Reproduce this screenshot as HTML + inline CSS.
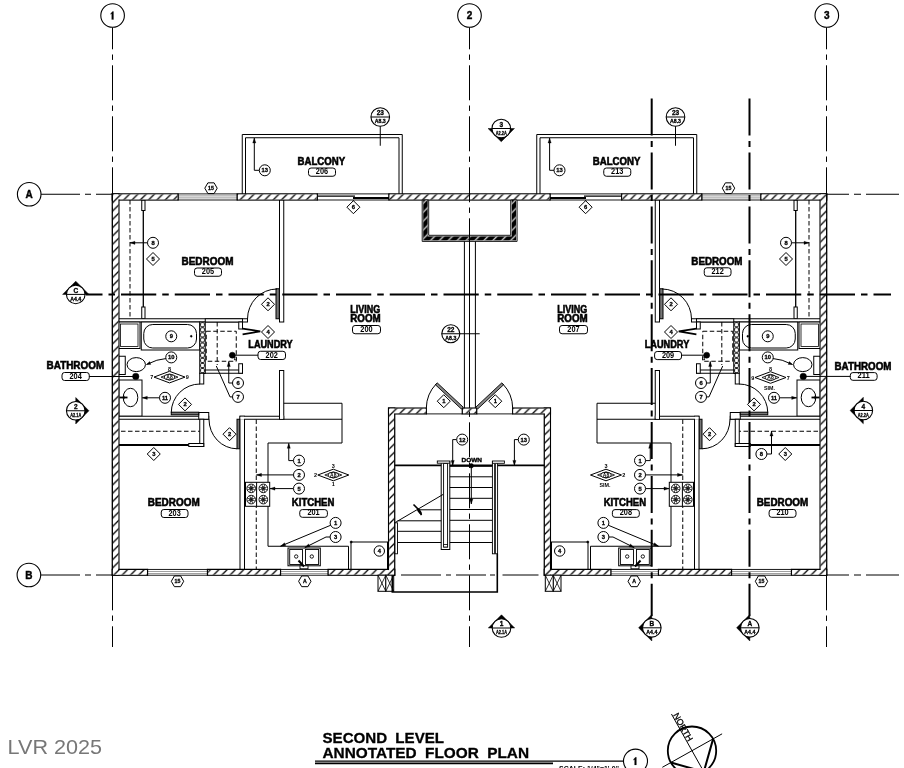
<!DOCTYPE html>
<html><head><meta charset="utf-8"><title>Second Level Annotated Floor Plan</title>
<style>html,body{margin:0;padding:0;background:#fff;}body{width:904px;height:768px;overflow:hidden;font-family:"Liberation Sans",sans-serif;}svg{position:absolute;left:0;top:0}</style>
</head><body>
<svg width="904" height="768" viewBox="0 0 904 768" style="display:block;filter:grayscale(1)">
<defs>
<pattern id="hatch" patternUnits="userSpaceOnUse" width="8.3" height="8.3">
<rect width="8.3" height="8.3" fill="#fff"/>
<path d="M-2.075 2.075 L2.075 -2.075 M0 8.3 L8.3 0 M6.225 10.375 L10.375 6.225" stroke="#000" stroke-width="1.3"/>
</pattern>
<pattern id="mason" patternUnits="userSpaceOnUse" width="8.9" height="8.9" x="2.5" y="1">
<rect width="8.9" height="8.9" fill="#000"/>
<path d="M-2.225 2.225 L2.225 -2.225 M0 8.9 L8.9 0 M6.675 11.125 L11.125 6.675" stroke="#fff" stroke-width="1.2"/>
</pattern>
</defs>
<rect width="904" height="768" fill="#fff"/>
<path d="M242.25 194.00 L242.25 134.50 L402.25 134.50 L402.25 194.00" fill="none" stroke="#000" stroke-width="1" />
<path d="M245.50 194.00 L245.50 137.75 L399.00 137.75 L399.00 194.00" fill="none" stroke="#000" stroke-width="1" />
<path d="M696.75 194.00 L696.75 134.50 L536.75 134.50 L536.75 194.00" fill="none" stroke="#000" stroke-width="1" />
<path d="M693.50 194.00 L693.50 137.75 L540.00 137.75 L540.00 194.00" fill="none" stroke="#000" stroke-width="1" />
<line x1="130.00" y1="200.00" x2="130.00" y2="318.75" stroke="#000" stroke-width="1" stroke-dasharray="4.5 2.5"/>
<line x1="143.30" y1="210.00" x2="143.30" y2="307.00" stroke="#000" stroke-width="1.3" />
<rect x="141.75" y="200.00" width="3.25" height="10.50" fill="#fff" stroke="#000" stroke-width="1" />
<rect x="141.75" y="307.00" width="3.25" height="11.75" fill="#fff" stroke="#000" stroke-width="1" />
<rect x="279.50" y="199.75" width="4.25" height="122.25" fill="#fff" stroke="#000" stroke-width="1" />
<rect x="118.50" y="318.75" width="129.00" height="3.25" fill="#fff" stroke="#000" stroke-width="1" />
<rect x="118.50" y="322.00" width="21.50" height="26.50" fill="#fff" stroke="#000" stroke-width="1" />
<rect x="120.50" y="324.00" width="17.50" height="22.50" fill="#fff" stroke="#000" stroke-width="0.8" />
<rect x="141.25" y="322.00" width="58.50" height="28.00" fill="#fff" stroke="#000" stroke-width="1" />
<rect x="143.75" y="324.5" width="52.75" height="23.5" rx="9" ry="9" fill="#fff" stroke="#000" stroke-width="1"/>
<circle cx="191.25" cy="336.25" r="0.90" fill="#000" stroke="#000" stroke-width="0.5" />
<rect x="199.75" y="322.00" width="5.50" height="51.50" fill="#fff" stroke="#000" stroke-width="1" />
<rect x="200.60" y="322.60" width="3.8" height="4.2" rx="1.2" fill="#fff" stroke="#000" stroke-width="0.9"/>
<rect x="200.60" y="327.70" width="3.8" height="4.2" rx="1.2" fill="#fff" stroke="#000" stroke-width="0.9"/>
<rect x="200.60" y="332.80" width="3.8" height="4.2" rx="1.2" fill="#fff" stroke="#000" stroke-width="0.9"/>
<rect x="200.60" y="337.90" width="3.8" height="4.2" rx="1.2" fill="#fff" stroke="#000" stroke-width="0.9"/>
<rect x="200.60" y="343.00" width="3.8" height="4.2" rx="1.2" fill="#fff" stroke="#000" stroke-width="0.9"/>
<rect x="200.60" y="348.10" width="3.8" height="4.2" rx="1.2" fill="#fff" stroke="#000" stroke-width="0.9"/>
<rect x="200.60" y="353.20" width="3.8" height="4.2" rx="1.2" fill="#fff" stroke="#000" stroke-width="0.9"/>
<rect x="200.60" y="358.30" width="3.8" height="4.2" rx="1.2" fill="#fff" stroke="#000" stroke-width="0.9"/>
<rect x="200.60" y="363.40" width="3.8" height="4.2" rx="1.2" fill="#fff" stroke="#000" stroke-width="0.9"/>
<rect x="200.60" y="368.50" width="3.8" height="4.2" rx="1.2" fill="#fff" stroke="#000" stroke-width="0.9"/>
<rect x="205.25" y="318.75" width="37.25" height="3.25" fill="#fff" stroke="#000" stroke-width="1" />
<rect x="238.75" y="322.00" width="3.75" height="7.00" fill="#fff" stroke="#000" stroke-width="1" />
<rect x="205.25" y="370.00" width="37.25" height="3.25" fill="#fff" stroke="#000" stroke-width="1" />
<rect x="238.75" y="363.75" width="3.75" height="9.50" fill="#fff" stroke="#000" stroke-width="1" />
<line x1="217.20" y1="322.00" x2="217.20" y2="365.00" stroke="#000" stroke-width="1" stroke-dasharray="4.5 2.5"/>
<rect x="206.25" y="331.25" width="30" height="30" fill="none" stroke="#000" stroke-width="1" stroke-dasharray="4.5 2.5"/>
<path d="M242.60 328.60 L260.30 331.30 L242.60 334.40" fill="none" stroke="#000" stroke-width="1.7" />
<rect x="118.75" y="356.25" width="6.50" height="18.25" fill="#fff" stroke="#000" stroke-width="1" />
<ellipse cx="136.25" cy="364.6" rx="9.2" ry="7" fill="#fff" stroke="#000" stroke-width="1"/>
<rect x="118.75" y="380.00" width="23.25" height="36.25" fill="#fff" stroke="#000" stroke-width="1" />
<ellipse cx="130.50" cy="397.5" rx="7.3" ry="9.2" fill="#fff" stroke="#000" stroke-width="1"/>
<line x1="119.50" y1="397.50" x2="127.50" y2="397.50" stroke="#000" stroke-width="1.8" />
<line x1="124.00" y1="395.80" x2="124.00" y2="399.20" stroke="#000" stroke-width="1" />
<rect x="199.75" y="373.25" width="4.00" height="10.75" fill="#fff" stroke="#000" stroke-width="1" />
<rect x="118.50" y="416.25" width="90.25" height="3.00" fill="#fff" stroke="#000" stroke-width="1" />
<rect x="198.75" y="412.50" width="10.00" height="6.75" fill="#fff" stroke="#000" stroke-width="1" />
<rect x="171.25" y="412.20" width="27.50" height="2.60" fill="#777" stroke="#000" stroke-width="1" />
<path d="M200.00 384 A28.75 28.75 0 0 0 171.25 412.5" fill="none" stroke="#000" stroke-width="1"/>
<line x1="121.00" y1="431.25" x2="200.00" y2="431.25" stroke="#000" stroke-width="1" stroke-dasharray="4.5 2.5"/>
<rect x="199.75" y="419.25" width="4.00" height="27.25" fill="#fff" stroke="#000" stroke-width="1" />
<rect x="188.75" y="443.50" width="15.00" height="3.00" fill="#fff" stroke="#000" stroke-width="1" />
<line x1="118.75" y1="445.00" x2="188.75" y2="445.00" stroke="#000" stroke-width="1.8" />
<rect x="237.00" y="419.25" width="3.00" height="29.50" fill="#777" stroke="#000" stroke-width="1" />
<path d="M209.00 419.25 A28 29.5 0 0 0 237.00 448.75" fill="none" stroke="#000" stroke-width="1"/>
<rect x="276.00" y="288.75" width="3.30" height="30.00" fill="#777" stroke="#000" stroke-width="1" />
<path d="M277.00 289 A29.5 30 0 0 0 247.50 319" fill="none" stroke="#000" stroke-width="1"/>
<rect x="240.00" y="416.25" width="4.50" height="153.25" fill="#fff" stroke="#000" stroke-width="1" />
<rect x="240.00" y="416.25" width="43.75" height="3.00" fill="#fff" stroke="#000" stroke-width="1" />
<rect x="279.50" y="370.50" width="4.25" height="48.75" fill="#fff" stroke="#000" stroke-width="1" />
<rect x="240.50" y="416.75" width="3.5" height="3" fill="#fff"/>
<rect x="280.00" y="415.5" width="3.25" height="3.25" fill="#fff"/>
<path d="M283.75 403.25 L342.00 403.25 L342.00 443.00 L268.00 443.00 L268.00 546.25 L348.50 546.25 L348.50 569.50" fill="none" stroke="#000" stroke-width="1" />
<line x1="283.75" y1="419.25" x2="342.00" y2="419.25" stroke="#000" stroke-width="1" />
<line x1="256.25" y1="419.50" x2="256.25" y2="569.50" stroke="#000" stroke-width="1" stroke-dasharray="4.5 2.5"/>
<rect x="351.00" y="542.00" width="36.50" height="27.50" fill="#fff" stroke="#000" stroke-width="1" />
<circle cx="351.20" cy="542.00" r="1.10" fill="#000" stroke="#000" stroke-width="0.5" />
<rect x="245.50" y="482.30" width="24.20" height="24.00" fill="#fff" stroke="#000" stroke-width="1" />
<line x1="256.60" y1="482.30" x2="256.60" y2="506.30" stroke="#000" stroke-width="1" />
<circle cx="251.20" cy="488.40" r="4.30" fill="#fff" stroke="#000" stroke-width="0.9" />
<circle cx="251.20" cy="488.40" r="1.60" fill="#fff" stroke="#000" stroke-width="0.8" />
<line x1="247.21" y1="486.79" x2="255.19" y2="490.01" stroke="#000" stroke-width="0.7" />
<line x1="249.52" y1="484.44" x2="252.88" y2="492.36" stroke="#000" stroke-width="0.7" />
<line x1="252.81" y1="484.41" x2="249.59" y2="492.39" stroke="#000" stroke-width="0.7" />
<line x1="255.16" y1="486.72" x2="247.24" y2="490.08" stroke="#000" stroke-width="0.7" />
<circle cx="251.20" cy="499.60" r="4.30" fill="#fff" stroke="#000" stroke-width="0.9" />
<circle cx="251.20" cy="499.60" r="1.60" fill="#fff" stroke="#000" stroke-width="0.8" />
<line x1="247.21" y1="497.99" x2="255.19" y2="501.21" stroke="#000" stroke-width="0.7" />
<line x1="249.52" y1="495.64" x2="252.88" y2="503.56" stroke="#000" stroke-width="0.7" />
<line x1="252.81" y1="495.61" x2="249.59" y2="503.59" stroke="#000" stroke-width="0.7" />
<line x1="255.16" y1="497.92" x2="247.24" y2="501.28" stroke="#000" stroke-width="0.7" />
<circle cx="263.30" cy="488.40" r="4.30" fill="#fff" stroke="#000" stroke-width="0.9" />
<circle cx="263.30" cy="488.40" r="1.60" fill="#fff" stroke="#000" stroke-width="0.8" />
<line x1="259.31" y1="486.79" x2="267.29" y2="490.01" stroke="#000" stroke-width="0.7" />
<line x1="261.62" y1="484.44" x2="264.98" y2="492.36" stroke="#000" stroke-width="0.7" />
<line x1="264.91" y1="484.41" x2="261.69" y2="492.39" stroke="#000" stroke-width="0.7" />
<line x1="267.26" y1="486.72" x2="259.34" y2="490.08" stroke="#000" stroke-width="0.7" />
<circle cx="263.30" cy="499.60" r="4.30" fill="#fff" stroke="#000" stroke-width="0.9" />
<circle cx="263.30" cy="499.60" r="1.60" fill="#fff" stroke="#000" stroke-width="0.8" />
<line x1="259.31" y1="497.99" x2="267.29" y2="501.21" stroke="#000" stroke-width="0.7" />
<line x1="261.62" y1="495.64" x2="264.98" y2="503.56" stroke="#000" stroke-width="0.7" />
<line x1="264.91" y1="495.61" x2="261.69" y2="503.59" stroke="#000" stroke-width="0.7" />
<line x1="267.26" y1="497.92" x2="259.34" y2="501.28" stroke="#000" stroke-width="0.7" />
<rect x="288.00" y="548.00" width="32.30" height="17.80" fill="#fff" stroke="#000" stroke-width="1" />
<rect x="289.70" y="549.50" width="12.80" height="15.00" fill="#fff" stroke="#000" stroke-width="0.9" />
<rect x="305.50" y="549.50" width="13.10" height="15.00" fill="#fff" stroke="#000" stroke-width="0.9" />
<circle cx="296.20" cy="556.50" r="1.70" fill="#fff" stroke="#000" stroke-width="0.9" />
<circle cx="311.80" cy="556.50" r="1.70" fill="#fff" stroke="#000" stroke-width="0.9" />
<rect x="300.00" y="565.80" width="8.00" height="3.00" fill="#fff" stroke="#000" stroke-width="0.9" />
<line x1="298.50" y1="560.50" x2="304.00" y2="566.50" stroke="#000" stroke-width="2" />
<line x1="809.00" y1="200.00" x2="809.00" y2="318.75" stroke="#000" stroke-width="1" stroke-dasharray="4.5 2.5"/>
<line x1="795.70" y1="210.00" x2="795.70" y2="307.00" stroke="#000" stroke-width="1.3" />
<rect x="794.00" y="200.00" width="3.25" height="10.50" fill="#fff" stroke="#000" stroke-width="1" />
<rect x="794.00" y="307.00" width="3.25" height="11.75" fill="#fff" stroke="#000" stroke-width="1" />
<rect x="655.25" y="199.75" width="4.25" height="122.25" fill="#fff" stroke="#000" stroke-width="1" />
<rect x="691.50" y="318.75" width="129.00" height="3.25" fill="#fff" stroke="#000" stroke-width="1" />
<rect x="799.00" y="322.00" width="21.50" height="26.50" fill="#fff" stroke="#000" stroke-width="1" />
<rect x="801.00" y="324.00" width="17.50" height="22.50" fill="#fff" stroke="#000" stroke-width="0.8" />
<rect x="739.25" y="322.00" width="58.50" height="28.00" fill="#fff" stroke="#000" stroke-width="1" />
<rect x="742.50" y="324.5" width="52.75" height="23.5" rx="9" ry="9" fill="#fff" stroke="#000" stroke-width="1"/>
<circle cx="747.75" cy="336.25" r="0.90" fill="#000" stroke="#000" stroke-width="0.5" />
<rect x="733.75" y="322.00" width="5.50" height="51.50" fill="#fff" stroke="#000" stroke-width="1" />
<rect x="734.60" y="322.60" width="3.8" height="4.2" rx="1.2" fill="#fff" stroke="#000" stroke-width="0.9"/>
<rect x="734.60" y="327.70" width="3.8" height="4.2" rx="1.2" fill="#fff" stroke="#000" stroke-width="0.9"/>
<rect x="734.60" y="332.80" width="3.8" height="4.2" rx="1.2" fill="#fff" stroke="#000" stroke-width="0.9"/>
<rect x="734.60" y="337.90" width="3.8" height="4.2" rx="1.2" fill="#fff" stroke="#000" stroke-width="0.9"/>
<rect x="734.60" y="343.00" width="3.8" height="4.2" rx="1.2" fill="#fff" stroke="#000" stroke-width="0.9"/>
<rect x="734.60" y="348.10" width="3.8" height="4.2" rx="1.2" fill="#fff" stroke="#000" stroke-width="0.9"/>
<rect x="734.60" y="353.20" width="3.8" height="4.2" rx="1.2" fill="#fff" stroke="#000" stroke-width="0.9"/>
<rect x="734.60" y="358.30" width="3.8" height="4.2" rx="1.2" fill="#fff" stroke="#000" stroke-width="0.9"/>
<rect x="734.60" y="363.40" width="3.8" height="4.2" rx="1.2" fill="#fff" stroke="#000" stroke-width="0.9"/>
<rect x="734.60" y="368.50" width="3.8" height="4.2" rx="1.2" fill="#fff" stroke="#000" stroke-width="0.9"/>
<rect x="696.50" y="318.75" width="37.25" height="3.25" fill="#fff" stroke="#000" stroke-width="1" />
<rect x="696.50" y="322.00" width="3.75" height="7.00" fill="#fff" stroke="#000" stroke-width="1" />
<rect x="696.50" y="370.00" width="37.25" height="3.25" fill="#fff" stroke="#000" stroke-width="1" />
<rect x="696.50" y="363.75" width="3.75" height="9.50" fill="#fff" stroke="#000" stroke-width="1" />
<line x1="721.80" y1="322.00" x2="721.80" y2="365.00" stroke="#000" stroke-width="1" stroke-dasharray="4.5 2.5"/>
<rect x="702.75" y="331.25" width="30" height="30" fill="none" stroke="#000" stroke-width="1" stroke-dasharray="4.5 2.5"/>
<path d="M696.40 328.60 L678.70 331.30 L696.40 334.40" fill="none" stroke="#000" stroke-width="1.7" />
<rect x="813.75" y="356.25" width="6.50" height="18.25" fill="#fff" stroke="#000" stroke-width="1" />
<ellipse cx="802.75" cy="364.6" rx="9.2" ry="7" fill="#fff" stroke="#000" stroke-width="1"/>
<rect x="797.00" y="380.00" width="23.25" height="36.25" fill="#fff" stroke="#000" stroke-width="1" />
<ellipse cx="808.50" cy="397.5" rx="7.3" ry="9.2" fill="#fff" stroke="#000" stroke-width="1"/>
<line x1="819.50" y1="397.50" x2="811.50" y2="397.50" stroke="#000" stroke-width="1.8" />
<line x1="815.00" y1="395.80" x2="815.00" y2="399.20" stroke="#000" stroke-width="1" />
<rect x="735.25" y="373.25" width="4.00" height="10.75" fill="#fff" stroke="#000" stroke-width="1" />
<rect x="730.25" y="416.25" width="90.25" height="3.00" fill="#fff" stroke="#000" stroke-width="1" />
<rect x="730.25" y="412.50" width="10.00" height="6.75" fill="#fff" stroke="#000" stroke-width="1" />
<rect x="740.25" y="412.20" width="27.50" height="2.60" fill="#777" stroke="#000" stroke-width="1" />
<path d="M739.00 384 A28.75 28.75 0 0 1 767.75 412.5" fill="none" stroke="#000" stroke-width="1"/>
<line x1="818.00" y1="431.25" x2="739.00" y2="431.25" stroke="#000" stroke-width="1" stroke-dasharray="4.5 2.5"/>
<rect x="735.25" y="419.25" width="4.00" height="27.25" fill="#fff" stroke="#000" stroke-width="1" />
<rect x="735.25" y="443.50" width="15.00" height="3.00" fill="#fff" stroke="#000" stroke-width="1" />
<line x1="820.25" y1="445.00" x2="750.25" y2="445.00" stroke="#000" stroke-width="1.8" />
<rect x="699.00" y="419.25" width="3.00" height="29.50" fill="#777" stroke="#000" stroke-width="1" />
<path d="M730.00 419.25 A28 29.5 0 0 1 702.00 448.75" fill="none" stroke="#000" stroke-width="1"/>
<rect x="659.70" y="288.75" width="3.30" height="30.00" fill="#777" stroke="#000" stroke-width="1" />
<path d="M662.00 289 A29.5 30 0 0 1 691.50 319" fill="none" stroke="#000" stroke-width="1"/>
<rect x="694.50" y="416.25" width="4.50" height="153.25" fill="#fff" stroke="#000" stroke-width="1" />
<rect x="655.25" y="416.25" width="43.75" height="3.00" fill="#fff" stroke="#000" stroke-width="1" />
<rect x="655.25" y="370.50" width="4.25" height="48.75" fill="#fff" stroke="#000" stroke-width="1" />
<rect x="695.00" y="416.75" width="3.5" height="3" fill="#fff"/>
<rect x="655.75" y="415.5" width="3.25" height="3.25" fill="#fff"/>
<path d="M655.25 403.25 L597.00 403.25 L597.00 443.00 L671.00 443.00 L671.00 546.25 L590.50 546.25 L590.50 569.50" fill="none" stroke="#000" stroke-width="1" />
<line x1="655.25" y1="419.25" x2="597.00" y2="419.25" stroke="#000" stroke-width="1" />
<line x1="682.75" y1="419.50" x2="682.75" y2="569.50" stroke="#000" stroke-width="1" stroke-dasharray="4.5 2.5"/>
<rect x="551.50" y="542.00" width="36.50" height="27.50" fill="#fff" stroke="#000" stroke-width="1" />
<circle cx="587.80" cy="542.00" r="1.10" fill="#000" stroke="#000" stroke-width="0.5" />
<rect x="669.30" y="482.30" width="24.20" height="24.00" fill="#fff" stroke="#000" stroke-width="1" />
<line x1="682.40" y1="482.30" x2="682.40" y2="506.30" stroke="#000" stroke-width="1" />
<circle cx="687.80" cy="488.40" r="4.30" fill="#fff" stroke="#000" stroke-width="0.9" />
<circle cx="687.80" cy="488.40" r="1.60" fill="#fff" stroke="#000" stroke-width="0.8" />
<line x1="683.81" y1="486.79" x2="691.79" y2="490.01" stroke="#000" stroke-width="0.7" />
<line x1="686.12" y1="484.44" x2="689.48" y2="492.36" stroke="#000" stroke-width="0.7" />
<line x1="689.41" y1="484.41" x2="686.19" y2="492.39" stroke="#000" stroke-width="0.7" />
<line x1="691.76" y1="486.72" x2="683.84" y2="490.08" stroke="#000" stroke-width="0.7" />
<circle cx="687.80" cy="499.60" r="4.30" fill="#fff" stroke="#000" stroke-width="0.9" />
<circle cx="687.80" cy="499.60" r="1.60" fill="#fff" stroke="#000" stroke-width="0.8" />
<line x1="683.81" y1="497.99" x2="691.79" y2="501.21" stroke="#000" stroke-width="0.7" />
<line x1="686.12" y1="495.64" x2="689.48" y2="503.56" stroke="#000" stroke-width="0.7" />
<line x1="689.41" y1="495.61" x2="686.19" y2="503.59" stroke="#000" stroke-width="0.7" />
<line x1="691.76" y1="497.92" x2="683.84" y2="501.28" stroke="#000" stroke-width="0.7" />
<circle cx="675.70" cy="488.40" r="4.30" fill="#fff" stroke="#000" stroke-width="0.9" />
<circle cx="675.70" cy="488.40" r="1.60" fill="#fff" stroke="#000" stroke-width="0.8" />
<line x1="671.71" y1="486.79" x2="679.69" y2="490.01" stroke="#000" stroke-width="0.7" />
<line x1="674.02" y1="484.44" x2="677.38" y2="492.36" stroke="#000" stroke-width="0.7" />
<line x1="677.31" y1="484.41" x2="674.09" y2="492.39" stroke="#000" stroke-width="0.7" />
<line x1="679.66" y1="486.72" x2="671.74" y2="490.08" stroke="#000" stroke-width="0.7" />
<circle cx="675.70" cy="499.60" r="4.30" fill="#fff" stroke="#000" stroke-width="0.9" />
<circle cx="675.70" cy="499.60" r="1.60" fill="#fff" stroke="#000" stroke-width="0.8" />
<line x1="671.71" y1="497.99" x2="679.69" y2="501.21" stroke="#000" stroke-width="0.7" />
<line x1="674.02" y1="495.64" x2="677.38" y2="503.56" stroke="#000" stroke-width="0.7" />
<line x1="677.31" y1="495.61" x2="674.09" y2="503.59" stroke="#000" stroke-width="0.7" />
<line x1="679.66" y1="497.92" x2="671.74" y2="501.28" stroke="#000" stroke-width="0.7" />
<rect x="618.70" y="548.00" width="32.30" height="17.80" fill="#fff" stroke="#000" stroke-width="1" />
<rect x="636.50" y="549.50" width="12.80" height="15.00" fill="#fff" stroke="#000" stroke-width="0.9" />
<rect x="620.40" y="549.50" width="13.10" height="15.00" fill="#fff" stroke="#000" stroke-width="0.9" />
<circle cx="642.80" cy="556.50" r="1.70" fill="#fff" stroke="#000" stroke-width="0.9" />
<circle cx="627.20" cy="556.50" r="1.70" fill="#fff" stroke="#000" stroke-width="0.9" />
<rect x="631.00" y="565.80" width="8.00" height="3.00" fill="#fff" stroke="#000" stroke-width="0.9" />
<line x1="640.50" y1="560.50" x2="635.00" y2="566.50" stroke="#000" stroke-width="2" />
<rect x="178.00" y="193.90" width="59.25" height="6.10" fill="#fff" stroke="#000" stroke-width="0.9" />
<line x1="178.00" y1="195.90" x2="237.25" y2="195.90" stroke="#000" stroke-width="0.6" opacity="0.7"/>
<line x1="178.00" y1="197.90" x2="237.25" y2="197.90" stroke="#000" stroke-width="0.6" opacity="0.7"/>
<rect x="147.50" y="569.40" width="60.00" height="5.80" fill="#fff" stroke="#000" stroke-width="0.9" />
<line x1="147.50" y1="571.40" x2="207.50" y2="571.40" stroke="#000" stroke-width="0.6" opacity="0.7"/>
<line x1="147.50" y1="573.40" x2="207.50" y2="573.40" stroke="#000" stroke-width="0.6" opacity="0.7"/>
<rect x="280.50" y="569.40" width="47.70" height="5.80" fill="#fff" stroke="#000" stroke-width="0.9" />
<line x1="280.50" y1="571.40" x2="328.20" y2="571.40" stroke="#000" stroke-width="0.6" opacity="0.7"/>
<line x1="280.50" y1="573.40" x2="328.20" y2="573.40" stroke="#000" stroke-width="0.6" opacity="0.7"/>
<rect x="317.25" y="193.90" width="71.75" height="6.10" fill="#fff" stroke="#000" stroke-width="0.9" />
<line x1="317.25" y1="196.20" x2="355.00" y2="196.20" stroke="#000" stroke-width="1.2" />
<line x1="353.00" y1="198.00" x2="389.00" y2="198.00" stroke="#000" stroke-width="2" />
<rect x="701.75" y="193.90" width="59.25" height="6.10" fill="#fff" stroke="#000" stroke-width="0.9" />
<line x1="761.00" y1="195.90" x2="701.75" y2="195.90" stroke="#000" stroke-width="0.6" opacity="0.7"/>
<line x1="761.00" y1="197.90" x2="701.75" y2="197.90" stroke="#000" stroke-width="0.6" opacity="0.7"/>
<rect x="731.50" y="569.40" width="60.00" height="5.80" fill="#fff" stroke="#000" stroke-width="0.9" />
<line x1="791.50" y1="571.40" x2="731.50" y2="571.40" stroke="#000" stroke-width="0.6" opacity="0.7"/>
<line x1="791.50" y1="573.40" x2="731.50" y2="573.40" stroke="#000" stroke-width="0.6" opacity="0.7"/>
<rect x="610.80" y="569.40" width="47.70" height="5.80" fill="#fff" stroke="#000" stroke-width="0.9" />
<line x1="658.50" y1="571.40" x2="610.80" y2="571.40" stroke="#000" stroke-width="0.6" opacity="0.7"/>
<line x1="658.50" y1="573.40" x2="610.80" y2="573.40" stroke="#000" stroke-width="0.6" opacity="0.7"/>
<rect x="550.00" y="193.90" width="71.75" height="6.10" fill="#fff" stroke="#000" stroke-width="0.9" />
<line x1="621.75" y1="196.20" x2="584.00" y2="196.20" stroke="#000" stroke-width="1.2" />
<line x1="586.00" y1="198.00" x2="550.00" y2="198.00" stroke="#000" stroke-width="2" />
<rect x="112.30" y="193.90" width="65.70" height="6.10" fill="#fff" stroke="#000" stroke-width="1.3" />
<rect x="237.25" y="193.90" width="80.00" height="6.10" fill="#fff" stroke="#000" stroke-width="1.3" />
<rect x="112.30" y="193.90" width="6.60" height="381.30" fill="#fff" stroke="#000" stroke-width="1.3" />
<rect x="112.30" y="569.40" width="35.20" height="5.80" fill="#fff" stroke="#000" stroke-width="1.3" />
<rect x="207.50" y="569.40" width="73.00" height="5.80" fill="#fff" stroke="#000" stroke-width="1.3" />
<rect x="328.20" y="569.40" width="66.50" height="5.80" fill="#fff" stroke="#000" stroke-width="1.3" />
<rect x="388.60" y="408.10" width="6.10" height="167.10" fill="#fff" stroke="#000" stroke-width="1.3" />
<rect x="388.60" y="408.10" width="37.70" height="5.80" fill="#fff" stroke="#000" stroke-width="1.3" />
<rect x="761.00" y="193.90" width="65.70" height="6.10" fill="#fff" stroke="#000" stroke-width="1.3" />
<rect x="621.75" y="193.90" width="80.00" height="6.10" fill="#fff" stroke="#000" stroke-width="1.3" />
<rect x="820.10" y="193.90" width="6.60" height="381.30" fill="#fff" stroke="#000" stroke-width="1.3" />
<rect x="791.50" y="569.40" width="35.20" height="5.80" fill="#fff" stroke="#000" stroke-width="1.3" />
<rect x="658.50" y="569.40" width="73.00" height="5.80" fill="#fff" stroke="#000" stroke-width="1.3" />
<rect x="544.30" y="569.40" width="66.50" height="5.80" fill="#fff" stroke="#000" stroke-width="1.3" />
<rect x="544.30" y="408.10" width="6.10" height="167.10" fill="#fff" stroke="#000" stroke-width="1.3" />
<rect x="512.70" y="408.10" width="37.70" height="5.80" fill="#fff" stroke="#000" stroke-width="1.3" />
<rect x="389.00" y="193.90" width="161.00" height="6.10" fill="#fff" stroke="#000" stroke-width="1.3" />
<rect x="462.30" y="408.10" width="14.40" height="5.80" fill="#fff" stroke="#000" stroke-width="1.3" />
<rect x="112.95" y="194.55" width="64.40" height="4.80" fill="url(#hatch)"/>
<rect x="237.90" y="194.55" width="78.70" height="4.80" fill="url(#hatch)"/>
<rect x="112.95" y="194.55" width="5.30" height="380.00" fill="url(#hatch)"/>
<rect x="112.95" y="570.05" width="33.90" height="4.50" fill="url(#hatch)"/>
<rect x="208.15" y="570.05" width="71.70" height="4.50" fill="url(#hatch)"/>
<rect x="328.85" y="570.05" width="65.20" height="4.50" fill="url(#hatch)"/>
<rect x="389.25" y="408.75" width="4.80" height="165.80" fill="url(#hatch)"/>
<rect x="389.25" y="408.75" width="36.40" height="4.50" fill="url(#hatch)"/>
<rect x="761.65" y="194.55" width="64.40" height="4.80" fill="url(#hatch)"/>
<rect x="622.40" y="194.55" width="78.70" height="4.80" fill="url(#hatch)"/>
<rect x="820.75" y="194.55" width="5.30" height="380.00" fill="url(#hatch)"/>
<rect x="792.15" y="570.05" width="33.90" height="4.50" fill="url(#hatch)"/>
<rect x="659.15" y="570.05" width="71.70" height="4.50" fill="url(#hatch)"/>
<rect x="544.95" y="570.05" width="65.20" height="4.50" fill="url(#hatch)"/>
<rect x="544.95" y="408.75" width="4.80" height="165.80" fill="url(#hatch)"/>
<rect x="513.35" y="408.75" width="36.40" height="4.50" fill="url(#hatch)"/>
<rect x="389.65" y="194.55" width="159.70" height="4.80" fill="url(#hatch)"/>
<rect x="462.95" y="408.75" width="13.10" height="4.50" fill="url(#hatch)"/>
<rect x="378.00" y="575.20" width="7.80" height="16.10" fill="#fff" stroke="#000" stroke-width="1" />
<line x1="378.00" y1="575.20" x2="385.80" y2="591.30" stroke="#000" stroke-width="0.8" />
<line x1="378.00" y1="591.30" x2="385.80" y2="575.20" stroke="#000" stroke-width="0.8" />
<rect x="385.80" y="575.20" width="7.90" height="16.10" fill="#fff" stroke="#000" stroke-width="1" />
<line x1="385.80" y1="575.20" x2="393.70" y2="591.30" stroke="#000" stroke-width="0.8" />
<line x1="385.80" y1="591.30" x2="393.70" y2="575.20" stroke="#000" stroke-width="0.8" />
<rect x="553.20" y="575.20" width="7.80" height="16.10" fill="#fff" stroke="#000" stroke-width="1" />
<line x1="561.00" y1="575.20" x2="553.20" y2="591.30" stroke="#000" stroke-width="0.8" />
<line x1="561.00" y1="591.30" x2="553.20" y2="575.20" stroke="#000" stroke-width="0.8" />
<rect x="545.30" y="575.20" width="7.90" height="16.10" fill="#fff" stroke="#000" stroke-width="1" />
<line x1="553.20" y1="575.20" x2="545.30" y2="591.30" stroke="#000" stroke-width="0.8" />
<line x1="553.20" y1="591.30" x2="545.30" y2="575.20" stroke="#000" stroke-width="0.8" />
<path d="M422.20 200.00 L422.20 241.40 L517.10 241.40 L517.10 200.00 L510.70 200.00 L510.70 235.30 L428.70 235.30 L428.70 200.00 Z" fill="#fff" stroke="#000" stroke-width="0.9" />
<path d="M423.30 200.00 L423.30 240.30 L516.00 240.30 L516.00 200.00 L511.80 200.00 L511.80 236.40 L427.60 236.40 L427.60 200.00 Z" fill="url(#mason)" stroke="#000" stroke-width="0.3" />
<line x1="464.40" y1="241.40" x2="464.40" y2="408.10" stroke="#000" stroke-width="1" />
<line x1="469.50" y1="241.40" x2="469.50" y2="408.10" stroke="#000" stroke-width="1" />
<line x1="475.40" y1="241.40" x2="475.40" y2="408.10" stroke="#000" stroke-width="1" />
<line x1="394.70" y1="465.40" x2="544.40" y2="465.40" stroke="#000" stroke-width="1.8" />
<rect x="441.20" y="461.50" width="8.60" height="88.00" fill="#fff" stroke="#000" stroke-width="1" />
<rect x="443.60" y="463.50" width="4.00" height="83.50" fill="#fff" stroke="#000" stroke-width="0.9" />
<rect x="437.30" y="461.00" width="12.50" height="2.20" fill="#fff" stroke="#000" stroke-width="0.9" />
<rect x="443.60" y="544.50" width="4.00" height="2.50" fill="#fff" stroke="#000" stroke-width="0.8" />
<line x1="449.80" y1="466.30" x2="492.50" y2="466.30" stroke="#000" stroke-width="1" />
<line x1="449.80" y1="476.80" x2="492.50" y2="476.80" stroke="#000" stroke-width="1" />
<line x1="449.80" y1="487.50" x2="492.50" y2="487.50" stroke="#000" stroke-width="1" />
<line x1="449.80" y1="498.30" x2="492.50" y2="498.30" stroke="#000" stroke-width="1" />
<line x1="449.80" y1="509.50" x2="492.50" y2="509.50" stroke="#000" stroke-width="1" />
<line x1="449.80" y1="520.30" x2="492.50" y2="520.30" stroke="#000" stroke-width="1" />
<line x1="449.80" y1="531.30" x2="492.50" y2="531.30" stroke="#000" stroke-width="1" />
<line x1="449.80" y1="542.50" x2="492.50" y2="542.50" stroke="#000" stroke-width="1" />
<line x1="397.50" y1="520.80" x2="441.20" y2="520.80" stroke="#000" stroke-width="1" />
<line x1="397.50" y1="531.30" x2="441.20" y2="531.30" stroke="#000" stroke-width="1" />
<line x1="397.50" y1="542.50" x2="441.20" y2="542.50" stroke="#000" stroke-width="1" />
<line x1="417.00" y1="509.80" x2="441.20" y2="509.80" stroke="#000" stroke-width="1" />
<line x1="394.70" y1="522.80" x2="443.00" y2="494.50" stroke="#000" stroke-width="1" />
<path d="M413.50 504.50 L418.20 509.20 L421.50 515.20" fill="none" stroke="#000" stroke-width="1.6" />
<ellipse cx="419.5" cy="511.5" rx="1.5" ry="3.3" transform="rotate(-35 419.5 511.5)" fill="#000"/>
<rect x="395.00" y="522.80" width="2.50" height="31.00" fill="#fff" stroke="#000" stroke-width="0.9" />
<rect x="492.40" y="461.50" width="5.20" height="92.30" fill="#fff" stroke="#000" stroke-width="0.9" />
<line x1="495.00" y1="463.50" x2="495.00" y2="553.80" stroke="#000" stroke-width="1.6" />
<rect x="492.40" y="461.00" width="12.00" height="2.30" fill="#fff" stroke="#000" stroke-width="0.9" />
<path d="M392.30 575.20 L392.30 592.00 L497.30 592.00 L497.30 553.80" fill="none" stroke="#000" stroke-width="1.6" />
<circle cx="471.30" cy="465.80" r="2.20" fill="#000" stroke="#000" stroke-width="0.5" />
<path d="M471.30 465.80 L471.30 504.00" fill="none" stroke="#000" stroke-width="1" />
<path d="M471.30 504.00 L469.70 499.00 L472.90 499.00 Z" fill="#000" stroke="#000" stroke-width="0.3" />
<text x="471.80" y="461.90" font-size="6" font-weight="bold" text-anchor="middle" fill="#000" font-family="Liberation Sans, sans-serif" textLength="20.50" lengthAdjust="spacingAndGlyphs" stroke="#000" stroke-width="0.35">DOWN</text>
<path d="M463.19 407.15 L437.19 382.85 L435.41 384.75 L461.41 409.05 Z" fill="#888" stroke="#000" stroke-width="0.9" />
<path d="M436.30 383.80 A36 36 0 0 0 426.30 408.1" fill="none" stroke="#000" stroke-width="1"/>
<line x1="426.30" y1="413.90" x2="462.30" y2="413.90" stroke="#000" stroke-width="0.9" />
<path d="M477.59 409.05 L503.59 384.75 L501.81 382.85 L475.81 407.15 Z" fill="#888" stroke="#000" stroke-width="0.9" />
<path d="M502.70 383.80 A36 36 0 0 1 512.70 408.1" fill="none" stroke="#000" stroke-width="1"/>
<line x1="512.70" y1="413.90" x2="476.70" y2="413.90" stroke="#000" stroke-width="0.9" />
<line x1="112.50" y1="27.30" x2="112.50" y2="647.00" stroke="#000" stroke-width="1" stroke-dasharray="35 5.2 5.4 5.4" stroke-dashoffset="13"/>
<line x1="469.50" y1="27.30" x2="469.50" y2="647.00" stroke="#000" stroke-width="1" stroke-dasharray="35 5.2 5.4 5.4" stroke-dashoffset="13"/>
<line x1="826.50" y1="27.30" x2="826.50" y2="647.00" stroke="#000" stroke-width="1" stroke-dasharray="35 5.2 5.4 5.4" stroke-dashoffset="13"/>
<path d="M41.00 194.25 L80.00 194.25" fill="none" stroke="#000" stroke-width="1" />
<path d="M85.00 194.25 L91.00 194.25" fill="none" stroke="#000" stroke-width="1" />
<path d="M96.00 194.25 L113.00 194.25" fill="none" stroke="#000" stroke-width="1" />
<path d="M826.00 194.25 L849.00 194.25" fill="none" stroke="#000" stroke-width="1" />
<path d="M854.00 194.25 L861.00 194.25" fill="none" stroke="#000" stroke-width="1" />
<path d="M866.00 194.25 L899.00 194.25" fill="none" stroke="#000" stroke-width="1" />
<path d="M41.00 575.00 L80.00 575.00" fill="none" stroke="#000" stroke-width="1" />
<path d="M85.00 575.00 L91.00 575.00" fill="none" stroke="#000" stroke-width="1" />
<path d="M96.00 575.00 L113.00 575.00" fill="none" stroke="#000" stroke-width="1" />
<path d="M826.00 575.00 L849.00 575.00" fill="none" stroke="#000" stroke-width="1" />
<path d="M854.00 575.00 L861.00 575.00" fill="none" stroke="#000" stroke-width="1" />
<path d="M866.00 575.00 L899.00 575.00" fill="none" stroke="#000" stroke-width="1" />
<line x1="394.50" y1="575.00" x2="545.00" y2="575.00" stroke="#000" stroke-width="1" stroke-dasharray="40 5 5 5 30 4 5 7.5 36 6"  stroke-dashoffset="-6.5"/>
<line x1="86.00" y1="294.50" x2="891.00" y2="294.50" stroke="#000" stroke-width="2" stroke-dasharray="35.25 6 6.5 6" stroke-dashoffset="18.75"/>
<line x1="651.70" y1="98.60" x2="651.70" y2="616.00" stroke="#000" stroke-width="2" stroke-dasharray="37 5.5 6 5.4"/>
<line x1="749.50" y1="98.60" x2="749.50" y2="616.00" stroke="#000" stroke-width="2" stroke-dasharray="37 5.5 6 5.4"/>
<circle cx="112.60" cy="15.50" r="11.80" fill="#fff" stroke="#000" stroke-width="1.1" />
<path d="M110.70 13.50 L112.50 11.50 L113.50 11.50 L113.50 19.50 L111.70 19.50 L111.70 13.60 L110.70 14.40 Z" fill="#000" stroke="#000" stroke-width="0.2" />
<circle cx="469.50" cy="15.50" r="11.80" fill="#fff" stroke="#000" stroke-width="1.1" />
<text x="469.50" y="19.10" font-size="10" font-weight="bold" text-anchor="middle" fill="#000" font-family="Liberation Sans, sans-serif" stroke="#000" stroke-width="0.4">2</text>
<circle cx="826.80" cy="15.50" r="11.80" fill="#fff" stroke="#000" stroke-width="1.1" />
<text x="826.80" y="19.10" font-size="10" font-weight="bold" text-anchor="middle" fill="#000" font-family="Liberation Sans, sans-serif" stroke="#000" stroke-width="0.4">3</text>
<circle cx="29.20" cy="194.25" r="11.80" fill="#fff" stroke="#000" stroke-width="1.1" />
<text x="29.20" y="197.85" font-size="10" font-weight="bold" text-anchor="middle" fill="#000" font-family="Liberation Sans, sans-serif" stroke="#000" stroke-width="0.4">A</text>
<circle cx="28.90" cy="575.00" r="11.80" fill="#fff" stroke="#000" stroke-width="1.1" />
<text x="28.90" y="578.60" font-size="10" font-weight="bold" text-anchor="middle" fill="#000" font-family="Liberation Sans, sans-serif" stroke="#000" stroke-width="0.4">B</text>
<path d="M62.55 294.40 L88.95 294.40 L75.75 281.20 Z" fill="#000" stroke="#000" stroke-width="0.5" />
<circle cx="75.75" cy="294.40" r="9.30" fill="#fff" stroke="#000" stroke-width="1.1" />
<line x1="66.45" y1="294.40" x2="85.05" y2="294.40" stroke="#000" stroke-width="1" />
<text x="75.75" y="292.80" font-size="6.5" font-weight="bold" text-anchor="middle" fill="#000" font-family="Liberation Sans, sans-serif" stroke="#000" stroke-width="0.3">C</text>
<text x="75.75" y="300.70" font-size="5.5" font-weight="bold" text-anchor="middle" fill="#000" font-family="Liberation Sans, sans-serif" textLength="11.00" lengthAdjust="spacingAndGlyphs" stroke="#000" stroke-width="0.3">A4.4</text>
<path d="M651.80 614.60 L651.80 641.00 L638.60 627.80 Z" fill="#000" stroke="#000" stroke-width="0.5" />
<circle cx="651.80" cy="627.80" r="9.30" fill="#fff" stroke="#000" stroke-width="1.1" />
<line x1="642.50" y1="627.80" x2="661.10" y2="627.80" stroke="#000" stroke-width="1" />
<text x="651.80" y="626.20" font-size="6.5" font-weight="bold" text-anchor="middle" fill="#000" font-family="Liberation Sans, sans-serif" stroke="#000" stroke-width="0.3">B</text>
<text x="651.80" y="634.10" font-size="5.5" font-weight="bold" text-anchor="middle" fill="#000" font-family="Liberation Sans, sans-serif" textLength="11.00" lengthAdjust="spacingAndGlyphs" stroke="#000" stroke-width="0.3">A4.4</text>
<path d="M749.80 614.60 L749.80 641.00 L736.60 627.80 Z" fill="#000" stroke="#000" stroke-width="0.5" />
<circle cx="749.80" cy="627.80" r="9.30" fill="#fff" stroke="#000" stroke-width="1.1" />
<line x1="740.50" y1="627.80" x2="759.10" y2="627.80" stroke="#000" stroke-width="1" />
<text x="749.80" y="626.20" font-size="6.5" font-weight="bold" text-anchor="middle" fill="#000" font-family="Liberation Sans, sans-serif" stroke="#000" stroke-width="0.3">A</text>
<text x="749.80" y="634.10" font-size="5.5" font-weight="bold" text-anchor="middle" fill="#000" font-family="Liberation Sans, sans-serif" textLength="11.00" lengthAdjust="spacingAndGlyphs" stroke="#000" stroke-width="0.3">A4.4</text>
<path d="M488.05 128.50 L514.45 128.50 L501.25 141.70 Z" fill="#000" stroke="#000" stroke-width="0.5" />
<circle cx="501.25" cy="128.50" r="9.30" fill="#fff" stroke="#000" stroke-width="1.1" />
<line x1="491.95" y1="128.50" x2="510.55" y2="128.50" stroke="#000" stroke-width="1" />
<text x="501.25" y="126.90" font-size="6.5" font-weight="bold" text-anchor="middle" fill="#000" font-family="Liberation Sans, sans-serif" stroke="#000" stroke-width="0.3">3</text>
<text x="501.25" y="134.80" font-size="5.5" font-weight="bold" text-anchor="middle" fill="#000" font-family="Liberation Sans, sans-serif" textLength="11.00" lengthAdjust="spacingAndGlyphs" stroke="#000" stroke-width="0.3">A2.2A</text>
<path d="M488.30 628.00 L514.70 628.00 L501.50 614.80 Z" fill="#000" stroke="#000" stroke-width="0.5" />
<circle cx="501.50" cy="628.00" r="9.30" fill="#fff" stroke="#000" stroke-width="1.1" />
<line x1="492.20" y1="628.00" x2="510.80" y2="628.00" stroke="#000" stroke-width="1" />
<text x="501.50" y="626.40" font-size="6.5" font-weight="bold" text-anchor="middle" fill="#000" font-family="Liberation Sans, sans-serif" stroke="#000" stroke-width="0.3">1</text>
<text x="501.50" y="634.30" font-size="5.5" font-weight="bold" text-anchor="middle" fill="#000" font-family="Liberation Sans, sans-serif" textLength="11.00" lengthAdjust="spacingAndGlyphs" stroke="#000" stroke-width="0.3">A2.1A</text>
<path d="M75.75 397.55 L75.75 423.95 L88.95 410.75 Z" fill="#000" stroke="#000" stroke-width="0.5" />
<circle cx="75.75" cy="410.75" r="9.30" fill="#fff" stroke="#000" stroke-width="1.1" />
<line x1="66.45" y1="410.75" x2="85.05" y2="410.75" stroke="#000" stroke-width="1" />
<text x="75.75" y="409.15" font-size="6.5" font-weight="bold" text-anchor="middle" fill="#000" font-family="Liberation Sans, sans-serif" stroke="#000" stroke-width="0.3">2</text>
<text x="75.75" y="417.05" font-size="5.5" font-weight="bold" text-anchor="middle" fill="#000" font-family="Liberation Sans, sans-serif" textLength="11.00" lengthAdjust="spacingAndGlyphs" stroke="#000" stroke-width="0.3">A2.1A</text>
<path d="M863.30 397.30 L863.30 423.70 L850.10 410.50 Z" fill="#000" stroke="#000" stroke-width="0.5" />
<circle cx="863.30" cy="410.50" r="9.30" fill="#fff" stroke="#000" stroke-width="1.1" />
<line x1="854.00" y1="410.50" x2="872.60" y2="410.50" stroke="#000" stroke-width="1" />
<text x="863.30" y="408.90" font-size="6.5" font-weight="bold" text-anchor="middle" fill="#000" font-family="Liberation Sans, sans-serif" stroke="#000" stroke-width="0.3">4</text>
<text x="863.30" y="416.80" font-size="5.5" font-weight="bold" text-anchor="middle" fill="#000" font-family="Liberation Sans, sans-serif" textLength="11.00" lengthAdjust="spacingAndGlyphs" stroke="#000" stroke-width="0.3">A2.2A</text>
<line x1="380.25" y1="126.00" x2="380.25" y2="145.75" stroke="#000" stroke-width="1" />
<circle cx="380.25" cy="117.00" r="9.30" fill="#fff" stroke="#000" stroke-width="1.1" />
<line x1="370.95" y1="117.00" x2="389.55" y2="117.00" stroke="#000" stroke-width="1" />
<text x="380.25" y="115.40" font-size="6.5" font-weight="bold" text-anchor="middle" fill="#000" font-family="Liberation Sans, sans-serif" stroke="#000" stroke-width="0.3">23</text>
<text x="380.25" y="123.30" font-size="5.5" font-weight="bold" text-anchor="middle" fill="#000" font-family="Liberation Sans, sans-serif" textLength="11.00" lengthAdjust="spacingAndGlyphs" stroke="#000" stroke-width="0.3">A8.3</text>
<line x1="675.50" y1="126.00" x2="675.50" y2="145.75" stroke="#000" stroke-width="1" />
<circle cx="675.50" cy="117.00" r="9.30" fill="#fff" stroke="#000" stroke-width="1.1" />
<line x1="666.20" y1="117.00" x2="684.80" y2="117.00" stroke="#000" stroke-width="1" />
<text x="675.50" y="115.40" font-size="6.5" font-weight="bold" text-anchor="middle" fill="#000" font-family="Liberation Sans, sans-serif" stroke="#000" stroke-width="0.3">23</text>
<text x="675.50" y="123.30" font-size="5.5" font-weight="bold" text-anchor="middle" fill="#000" font-family="Liberation Sans, sans-serif" textLength="11.00" lengthAdjust="spacingAndGlyphs" stroke="#000" stroke-width="0.3">A8.3</text>
<line x1="441.70" y1="333.75" x2="479.70" y2="333.75" stroke="#000" stroke-width="1" />
<circle cx="450.80" cy="333.75" r="9.00" fill="#fff" stroke="#000" stroke-width="1.1" />
<line x1="441.80" y1="333.75" x2="459.80" y2="333.75" stroke="#000" stroke-width="1" />
<text x="450.80" y="332.15" font-size="6.5" font-weight="bold" text-anchor="middle" fill="#000" font-family="Liberation Sans, sans-serif" stroke="#000" stroke-width="0.3">22</text>
<text x="450.80" y="340.05" font-size="5.5" font-weight="bold" text-anchor="middle" fill="#000" font-family="Liberation Sans, sans-serif" textLength="11.00" lengthAdjust="spacingAndGlyphs" stroke="#000" stroke-width="0.3">A8.3</text>
<text x="297.55" y="164.70" font-size="11" font-weight="bold" text-anchor="start" fill="#000" font-family="Liberation Sans, sans-serif" textLength="47.65" lengthAdjust="spacingAndGlyphs" stroke="#000" stroke-width="0.6">BALCONY</text>
<rect x="308.50" y="168.00" width="27.00" height="8.25" rx="2.6" ry="2.6" fill="#fff" stroke="#000" stroke-width="1"/>
<text x="322.00" y="174.35" font-size="8.2" font-weight="bold" text-anchor="middle" fill="#000" font-family="Liberation Sans, sans-serif" textLength="12.30" lengthAdjust="spacingAndGlyphs" >206</text>
<text x="592.80" y="164.70" font-size="11" font-weight="bold" text-anchor="start" fill="#000" font-family="Liberation Sans, sans-serif" textLength="47.65" lengthAdjust="spacingAndGlyphs" stroke="#000" stroke-width="0.6">BALCONY</text>
<rect x="603.75" y="168.00" width="27.00" height="8.25" rx="2.6" ry="2.6" fill="#fff" stroke="#000" stroke-width="1"/>
<text x="617.25" y="174.35" font-size="8.2" font-weight="bold" text-anchor="middle" fill="#000" font-family="Liberation Sans, sans-serif" textLength="12.30" lengthAdjust="spacingAndGlyphs" >213</text>
<text x="181.55" y="264.70" font-size="11" font-weight="bold" text-anchor="start" fill="#000" font-family="Liberation Sans, sans-serif" textLength="51.90" lengthAdjust="spacingAndGlyphs" stroke="#000" stroke-width="0.6">BEDROOM</text>
<rect x="194.50" y="268.00" width="27.00" height="8.25" rx="2.6" ry="2.6" fill="#fff" stroke="#000" stroke-width="1"/>
<text x="208.00" y="274.35" font-size="8.2" font-weight="bold" text-anchor="middle" fill="#000" font-family="Liberation Sans, sans-serif" textLength="12.30" lengthAdjust="spacingAndGlyphs" >205</text>
<text x="691.30" y="264.50" font-size="11" font-weight="bold" text-anchor="start" fill="#000" font-family="Liberation Sans, sans-serif" textLength="51.20" lengthAdjust="spacingAndGlyphs" stroke="#000" stroke-width="0.6">BEDROOM</text>
<rect x="704.25" y="267.80" width="26.75" height="8.45" rx="2.6" ry="2.6" fill="#fff" stroke="#000" stroke-width="1"/>
<text x="717.62" y="274.35" font-size="8.2" font-weight="bold" text-anchor="middle" fill="#000" font-family="Liberation Sans, sans-serif" textLength="12.30" lengthAdjust="spacingAndGlyphs" >212</text>
<text x="350.30" y="312.70" font-size="11" font-weight="bold" text-anchor="start" fill="#000" font-family="Liberation Sans, sans-serif" textLength="29.90" lengthAdjust="spacingAndGlyphs" stroke="#000" stroke-width="0.6">LIVING</text>
<text x="350.30" y="322.30" font-size="11" font-weight="bold" text-anchor="start" fill="#000" font-family="Liberation Sans, sans-serif" textLength="30.40" lengthAdjust="spacingAndGlyphs" stroke="#000" stroke-width="0.6">ROOM</text>
<rect x="352.50" y="325.50" width="28.00" height="8.25" rx="2.6" ry="2.6" fill="#fff" stroke="#000" stroke-width="1"/>
<text x="366.50" y="331.85" font-size="8.2" font-weight="bold" text-anchor="middle" fill="#000" font-family="Liberation Sans, sans-serif" textLength="12.30" lengthAdjust="spacingAndGlyphs" >200</text>
<text x="557.30" y="312.70" font-size="11" font-weight="bold" text-anchor="start" fill="#000" font-family="Liberation Sans, sans-serif" textLength="29.90" lengthAdjust="spacingAndGlyphs" stroke="#000" stroke-width="0.6">LIVING</text>
<text x="557.30" y="322.30" font-size="11" font-weight="bold" text-anchor="start" fill="#000" font-family="Liberation Sans, sans-serif" textLength="30.40" lengthAdjust="spacingAndGlyphs" stroke="#000" stroke-width="0.6">ROOM</text>
<rect x="559.50" y="325.50" width="28.00" height="8.25" rx="2.6" ry="2.6" fill="#fff" stroke="#000" stroke-width="1"/>
<text x="573.50" y="331.85" font-size="8.2" font-weight="bold" text-anchor="middle" fill="#000" font-family="Liberation Sans, sans-serif" textLength="12.30" lengthAdjust="spacingAndGlyphs" >207</text>
<text x="248.30" y="348.45" font-size="11" font-weight="bold" text-anchor="start" fill="#000" font-family="Liberation Sans, sans-serif" textLength="44.40" lengthAdjust="spacingAndGlyphs" stroke="#000" stroke-width="0.6">LAUNDRY</text>
<rect x="258.00" y="351.25" width="27.50" height="8.25" rx="2.6" ry="2.6" fill="#fff" stroke="#000" stroke-width="1"/>
<text x="271.75" y="357.60" font-size="8.2" font-weight="bold" text-anchor="middle" fill="#000" font-family="Liberation Sans, sans-serif" textLength="12.30" lengthAdjust="spacingAndGlyphs" >202</text>
<text x="644.70" y="348.45" font-size="11" font-weight="bold" text-anchor="start" fill="#000" font-family="Liberation Sans, sans-serif" textLength="44.60" lengthAdjust="spacingAndGlyphs" stroke="#000" stroke-width="0.6">LAUNDRY</text>
<rect x="654.60" y="351.50" width="26.90" height="8.10" rx="2.6" ry="2.6" fill="#fff" stroke="#000" stroke-width="1"/>
<text x="668.05" y="357.70" font-size="8.2" font-weight="bold" text-anchor="middle" fill="#000" font-family="Liberation Sans, sans-serif" textLength="12.30" lengthAdjust="spacingAndGlyphs" >209</text>
<text x="46.55" y="369.30" font-size="11" font-weight="bold" text-anchor="start" fill="#000" font-family="Liberation Sans, sans-serif" textLength="57.65" lengthAdjust="spacingAndGlyphs" stroke="#000" stroke-width="0.6">BATHROOM</text>
<rect x="62.00" y="372.50" width="27.25" height="8.00" rx="2.6" ry="2.6" fill="#fff" stroke="#000" stroke-width="1"/>
<text x="75.62" y="378.60" font-size="8.2" font-weight="bold" text-anchor="middle" fill="#000" font-family="Liberation Sans, sans-serif" textLength="12.30" lengthAdjust="spacingAndGlyphs" >204</text>
<text x="834.50" y="369.50" font-size="11" font-weight="bold" text-anchor="start" fill="#000" font-family="Liberation Sans, sans-serif" textLength="56.95" lengthAdjust="spacingAndGlyphs" stroke="#000" stroke-width="0.6">BATHROOM</text>
<rect x="850.30" y="372.60" width="26.80" height="7.70" rx="2.6" ry="2.6" fill="#fff" stroke="#000" stroke-width="1"/>
<text x="863.70" y="378.40" font-size="8.2" font-weight="bold" text-anchor="middle" fill="#000" font-family="Liberation Sans, sans-serif" textLength="12.30" lengthAdjust="spacingAndGlyphs" >211</text>
<text x="147.80" y="505.95" font-size="11" font-weight="bold" text-anchor="start" fill="#000" font-family="Liberation Sans, sans-serif" textLength="51.90" lengthAdjust="spacingAndGlyphs" stroke="#000" stroke-width="0.6">BEDROOM</text>
<rect x="161.25" y="509.50" width="26.75" height="8.00" rx="2.6" ry="2.6" fill="#fff" stroke="#000" stroke-width="1"/>
<text x="174.62" y="515.60" font-size="8.2" font-weight="bold" text-anchor="middle" fill="#000" font-family="Liberation Sans, sans-serif" textLength="12.30" lengthAdjust="spacingAndGlyphs" >203</text>
<text x="756.70" y="505.90" font-size="11" font-weight="bold" text-anchor="start" fill="#000" font-family="Liberation Sans, sans-serif" textLength="51.50" lengthAdjust="spacingAndGlyphs" stroke="#000" stroke-width="0.6">BEDROOM</text>
<rect x="769.10" y="509.50" width="26.90" height="7.80" rx="2.6" ry="2.6" fill="#fff" stroke="#000" stroke-width="1"/>
<text x="782.55" y="515.40" font-size="8.2" font-weight="bold" text-anchor="middle" fill="#000" font-family="Liberation Sans, sans-serif" textLength="12.30" lengthAdjust="spacingAndGlyphs" >210</text>
<text x="291.80" y="505.95" font-size="11" font-weight="bold" text-anchor="start" fill="#000" font-family="Liberation Sans, sans-serif" textLength="42.65" lengthAdjust="spacingAndGlyphs" stroke="#000" stroke-width="0.6">KITCHEN</text>
<rect x="299.75" y="509.60" width="27.65" height="7.70" rx="2.6" ry="2.6" fill="#fff" stroke="#000" stroke-width="1"/>
<text x="313.57" y="515.40" font-size="8.2" font-weight="bold" text-anchor="middle" fill="#000" font-family="Liberation Sans, sans-serif" textLength="12.30" lengthAdjust="spacingAndGlyphs" >201</text>
<text x="603.70" y="505.95" font-size="11" font-weight="bold" text-anchor="start" fill="#000" font-family="Liberation Sans, sans-serif" textLength="42.40" lengthAdjust="spacingAndGlyphs" stroke="#000" stroke-width="0.6">KITCHEN</text>
<rect x="612.40" y="509.60" width="26.90" height="7.70" rx="2.6" ry="2.6" fill="#fff" stroke="#000" stroke-width="1"/>
<text x="625.85" y="515.40" font-size="8.2" font-weight="bold" text-anchor="middle" fill="#000" font-family="Liberation Sans, sans-serif" textLength="12.30" lengthAdjust="spacingAndGlyphs" >208</text>
<line x1="89.25" y1="376.50" x2="135.75" y2="376.50" stroke="#000" stroke-width="1" />
<circle cx="135.75" cy="376.40" r="3.20" fill="#000" stroke="#000" stroke-width="0.5" />
<line x1="803.25" y1="376.40" x2="850.30" y2="376.40" stroke="#000" stroke-width="1" />
<circle cx="803.25" cy="376.40" r="3.20" fill="#000" stroke="#000" stroke-width="0.5" />
<line x1="232.30" y1="355.20" x2="258.00" y2="355.20" stroke="#000" stroke-width="1" />
<circle cx="232.30" cy="355.20" r="3.00" fill="#000" stroke="#000" stroke-width="0.5" />
<line x1="681.50" y1="355.20" x2="706.70" y2="355.20" stroke="#000" stroke-width="1" />
<circle cx="706.70" cy="355.20" r="3.00" fill="#000" stroke="#000" stroke-width="0.5" />
<rect x="234.30" y="357.00" width="2.00" height="2.80" fill="none" stroke="#000" stroke-width="0.7" />
<rect x="702.70" y="357.00" width="2.00" height="2.80" fill="none" stroke="#000" stroke-width="0.7" />
<path d="M217.20 188.20 L214.10 193.57 L207.90 193.57 L204.80 188.20 L207.90 182.83 L214.10 182.83 Z" fill="#fff" stroke="#000" stroke-width="1" />
<text x="211.00" y="190.07" font-size="5.2" font-weight="bold" text-anchor="middle" fill="#000" font-family="Liberation Sans, sans-serif" stroke="#000" stroke-width="0.3">15</text>
<path d="M734.70 188.20 L731.60 193.57 L725.40 193.57 L722.30 188.20 L725.40 182.83 L731.60 182.83 Z" fill="#fff" stroke="#000" stroke-width="1" />
<text x="728.50" y="190.07" font-size="5.2" font-weight="bold" text-anchor="middle" fill="#000" font-family="Liberation Sans, sans-serif" stroke="#000" stroke-width="0.3">15</text>
<path d="M183.70 581.30 L180.60 586.67 L174.40 586.67 L171.30 581.30 L174.40 575.93 L180.60 575.93 Z" fill="#fff" stroke="#000" stroke-width="1" />
<text x="177.50" y="583.17" font-size="5.2" font-weight="bold" text-anchor="middle" fill="#000" font-family="Liberation Sans, sans-serif" stroke="#000" stroke-width="0.3">15</text>
<path d="M767.70 581.30 L764.60 586.67 L758.40 586.67 L755.30 581.30 L758.40 575.93 L764.60 575.93 Z" fill="#fff" stroke="#000" stroke-width="1" />
<text x="761.50" y="583.17" font-size="5.2" font-weight="bold" text-anchor="middle" fill="#000" font-family="Liberation Sans, sans-serif" stroke="#000" stroke-width="0.3">15</text>
<path d="M311.00 581.30 L307.90 586.67 L301.70 586.67 L298.60 581.30 L301.70 575.93 L307.90 575.93 Z" fill="#fff" stroke="#000" stroke-width="1" />
<text x="304.80" y="583.17" font-size="5.2" font-weight="bold" text-anchor="middle" fill="#000" font-family="Liberation Sans, sans-serif" stroke="#000" stroke-width="0.3">A</text>
<path d="M640.40 581.30 L637.30 586.67 L631.10 586.67 L628.00 581.30 L631.10 575.93 L637.30 575.93 Z" fill="#fff" stroke="#000" stroke-width="1" />
<text x="634.20" y="583.17" font-size="5.2" font-weight="bold" text-anchor="middle" fill="#000" font-family="Liberation Sans, sans-serif" stroke="#000" stroke-width="0.3">A</text>
<line x1="353.40" y1="200.00" x2="353.40" y2="201.00" stroke="#000" stroke-width="0.9" />
<line x1="585.60" y1="200.00" x2="585.60" y2="201.00" stroke="#000" stroke-width="0.9" />
<path d="M353.40 200.70 L359.90 207.20 L353.40 213.70 L346.90 207.20 Z" fill="#fff" stroke="#000" stroke-width="1" />
<text x="353.40" y="209.29" font-size="5.8" font-weight="bold" text-anchor="middle" fill="#000" font-family="Liberation Sans, sans-serif" stroke="#000" stroke-width="0.3">6</text>
<path d="M585.60 200.70 L592.10 207.20 L585.60 213.70 L579.10 207.20 Z" fill="#fff" stroke="#000" stroke-width="1" />
<text x="585.60" y="209.29" font-size="5.8" font-weight="bold" text-anchor="middle" fill="#000" font-family="Liberation Sans, sans-serif" stroke="#000" stroke-width="0.3">6</text>
<path d="M268.00 297.80 L274.50 304.30 L268.00 310.80 L261.50 304.30 Z" fill="#fff" stroke="#000" stroke-width="1" />
<text x="268.00" y="306.39" font-size="5.8" font-weight="bold" text-anchor="middle" fill="#000" font-family="Liberation Sans, sans-serif" stroke="#000" stroke-width="0.3">2</text>
<path d="M268.00 325.50 L274.50 332.00 L268.00 338.50 L261.50 332.00 Z" fill="#fff" stroke="#000" stroke-width="1" />
<text x="268.00" y="334.09" font-size="5.8" font-weight="bold" text-anchor="middle" fill="#000" font-family="Liberation Sans, sans-serif" stroke="#000" stroke-width="0.3">4</text>
<path d="M185.00 397.90 L191.50 404.40 L185.00 410.90 L178.50 404.40 Z" fill="#fff" stroke="#000" stroke-width="1" />
<text x="185.00" y="406.49" font-size="5.8" font-weight="bold" text-anchor="middle" fill="#000" font-family="Liberation Sans, sans-serif" stroke="#000" stroke-width="0.3">2</text>
<path d="M229.50 427.70 L236.00 434.20 L229.50 440.70 L223.00 434.20 Z" fill="#fff" stroke="#000" stroke-width="1" />
<text x="229.50" y="436.29" font-size="5.8" font-weight="bold" text-anchor="middle" fill="#000" font-family="Liberation Sans, sans-serif" stroke="#000" stroke-width="0.3">2</text>
<path d="M153.75 447.50 L160.25 454.00 L153.75 460.50 L147.25 454.00 Z" fill="#fff" stroke="#000" stroke-width="1" />
<text x="153.75" y="456.09" font-size="5.8" font-weight="bold" text-anchor="middle" fill="#000" font-family="Liberation Sans, sans-serif" stroke="#000" stroke-width="0.3">3</text>
<path d="M153.00 252.50 L159.50 259.00 L153.00 265.50 L146.50 259.00 Z" fill="#fff" stroke="#000" stroke-width="1" />
<text x="153.00" y="261.09" font-size="5.8" font-weight="bold" text-anchor="middle" fill="#000" font-family="Liberation Sans, sans-serif" stroke="#000" stroke-width="0.3">5</text>
<path d="M443.75 394.70 L450.25 401.20 L443.75 407.70 L437.25 401.20 Z" fill="#fff" stroke="#000" stroke-width="1" />
<text x="443.75" y="403.29" font-size="5.8" font-weight="bold" text-anchor="middle" fill="#000" font-family="Liberation Sans, sans-serif" stroke="#000" stroke-width="0.3">1</text>
<path d="M147.50 242.80 L130.00 242.80" fill="none" stroke="#000" stroke-width="1" />
<path d="M130.00 242.80 L135.00 241.20 L135.00 244.40 Z" fill="#000" stroke="#000" stroke-width="0.3" />
<circle cx="153.00" cy="242.80" r="5.50" fill="#fff" stroke="#000" stroke-width="1" />
<text x="153.00" y="244.89" font-size="5.8" font-weight="bold" text-anchor="middle" fill="#000" font-family="Liberation Sans, sans-serif" stroke="#000" stroke-width="0.3">8</text>
<circle cx="171.25" cy="336.30" r="5.50" fill="#fff" stroke="#000" stroke-width="1" />
<text x="171.25" y="338.39" font-size="5.8" font-weight="bold" text-anchor="middle" fill="#000" font-family="Liberation Sans, sans-serif" stroke="#000" stroke-width="0.3">9</text>
<path d="M166.25 358.5 Q157.25 359 146.50 364.5" fill="none" stroke="#000" stroke-width="1"/>
<path d="M146.50 364.50 L149.58 361.48 L150.81 364.44 Z" fill="#000" stroke="#000" stroke-width="0.3" />
<circle cx="171.25" cy="357.40" r="5.50" fill="#fff" stroke="#000" stroke-width="1" />
<text x="171.25" y="359.49" font-size="5.8" font-weight="bold" text-anchor="middle" fill="#000" font-family="Liberation Sans, sans-serif" stroke="#000" stroke-width="0.3">10</text>
<path d="M159.50 397.80 L142.30 397.80" fill="none" stroke="#000" stroke-width="1" />
<path d="M142.30 397.80 L147.30 396.20 L147.30 399.40 Z" fill="#000" stroke="#000" stroke-width="0.3" />
<circle cx="165.00" cy="397.80" r="5.50" fill="#fff" stroke="#000" stroke-width="1" />
<text x="165.00" y="399.89" font-size="5.8" font-weight="bold" text-anchor="middle" fill="#000" font-family="Liberation Sans, sans-serif" stroke="#000" stroke-width="0.3">11</text>
<path d="M232.50 383.00 L228.75 383.00 L228.75 361.50" fill="none" stroke="#000" stroke-width="1" />
<path d="M228.75 361.50 L230.35 366.50 L227.15 366.50 Z" fill="#000" stroke="#000" stroke-width="0.3" />
<circle cx="238.00" cy="383.00" r="5.50" fill="#fff" stroke="#000" stroke-width="1" />
<text x="238.00" y="385.09" font-size="5.8" font-weight="bold" text-anchor="middle" fill="#000" font-family="Liberation Sans, sans-serif" stroke="#000" stroke-width="0.3">6</text>
<path d="M232.50 396.90 L230.00 396.90 L216.30 366.00" fill="none" stroke="#000" stroke-width="1" />
<circle cx="238.00" cy="396.90" r="5.50" fill="#fff" stroke="#000" stroke-width="1" />
<text x="238.00" y="398.99" font-size="5.8" font-weight="bold" text-anchor="middle" fill="#000" font-family="Liberation Sans, sans-serif" stroke="#000" stroke-width="0.3">7</text>
<path d="M293.50 460.60 L288.75 460.60 L288.75 443.30" fill="none" stroke="#000" stroke-width="1" />
<path d="M288.75 443.30 L290.35 448.30 L287.15 448.30 Z" fill="#000" stroke="#000" stroke-width="0.3" />
<circle cx="299.00" cy="460.60" r="5.50" fill="#fff" stroke="#000" stroke-width="1" />
<text x="299.00" y="462.69" font-size="5.8" font-weight="bold" text-anchor="middle" fill="#000" font-family="Liberation Sans, sans-serif" stroke="#000" stroke-width="0.3">1</text>
<path d="M293.50 474.90 L256.50 474.90" fill="none" stroke="#000" stroke-width="1" />
<path d="M256.50 474.90 L261.50 473.30 L261.50 476.50 Z" fill="#000" stroke="#000" stroke-width="0.3" />
<circle cx="299.00" cy="474.90" r="5.50" fill="#fff" stroke="#000" stroke-width="1" />
<text x="299.00" y="476.99" font-size="5.8" font-weight="bold" text-anchor="middle" fill="#000" font-family="Liberation Sans, sans-serif" stroke="#000" stroke-width="0.3">2</text>
<path d="M293.50 488.60 L270.00 488.60" fill="none" stroke="#000" stroke-width="1" />
<path d="M270.00 488.60 L275.00 487.00 L275.00 490.20 Z" fill="#000" stroke="#000" stroke-width="0.3" />
<circle cx="299.00" cy="488.60" r="5.50" fill="#fff" stroke="#000" stroke-width="1" />
<text x="299.00" y="490.69" font-size="5.8" font-weight="bold" text-anchor="middle" fill="#000" font-family="Liberation Sans, sans-serif" stroke="#000" stroke-width="0.3">5</text>
<path d="M330.80 525.20 L280.50 546.20" fill="none" stroke="#000" stroke-width="1" />
<path d="M280.50 546.20 L284.50 542.80 L285.73 545.75 Z" fill="#000" stroke="#000" stroke-width="0.3" />
<circle cx="335.60" cy="522.90" r="5.50" fill="#fff" stroke="#000" stroke-width="1" />
<text x="335.60" y="524.99" font-size="5.8" font-weight="bold" text-anchor="middle" fill="#000" font-family="Liberation Sans, sans-serif" stroke="#000" stroke-width="0.3">1</text>
<path d="M330.10 537.00 L326.00 537.00 L304.80 547.60" fill="none" stroke="#000" stroke-width="1" />
<path d="M304.80 547.60 L308.56 543.93 L309.99 546.80 Z" fill="#000" stroke="#000" stroke-width="0.3" />
<circle cx="335.60" cy="537.00" r="5.50" fill="#fff" stroke="#000" stroke-width="1" />
<text x="335.60" y="539.09" font-size="5.8" font-weight="bold" text-anchor="middle" fill="#000" font-family="Liberation Sans, sans-serif" stroke="#000" stroke-width="0.3">3</text>
<circle cx="379.30" cy="551.00" r="5.20" fill="#fff" stroke="#000" stroke-width="1" />
<text x="379.30" y="553.09" font-size="5.8" font-weight="bold" text-anchor="middle" fill="#000" font-family="Liberation Sans, sans-serif" stroke="#000" stroke-width="0.3">4</text>
<path d="M671.00 297.80 L677.50 304.30 L671.00 310.80 L664.50 304.30 Z" fill="#fff" stroke="#000" stroke-width="1" />
<text x="671.00" y="306.39" font-size="5.8" font-weight="bold" text-anchor="middle" fill="#000" font-family="Liberation Sans, sans-serif" stroke="#000" stroke-width="0.3">2</text>
<path d="M671.00 325.50 L677.50 332.00 L671.00 338.50 L664.50 332.00 Z" fill="#fff" stroke="#000" stroke-width="1" />
<text x="671.00" y="334.09" font-size="5.8" font-weight="bold" text-anchor="middle" fill="#000" font-family="Liberation Sans, sans-serif" stroke="#000" stroke-width="0.3">4</text>
<path d="M754.00 397.90 L760.50 404.40 L754.00 410.90 L747.50 404.40 Z" fill="#fff" stroke="#000" stroke-width="1" />
<text x="754.00" y="406.49" font-size="5.8" font-weight="bold" text-anchor="middle" fill="#000" font-family="Liberation Sans, sans-serif" stroke="#000" stroke-width="0.3">2</text>
<path d="M709.50 427.70 L716.00 434.20 L709.50 440.70 L703.00 434.20 Z" fill="#fff" stroke="#000" stroke-width="1" />
<text x="709.50" y="436.29" font-size="5.8" font-weight="bold" text-anchor="middle" fill="#000" font-family="Liberation Sans, sans-serif" stroke="#000" stroke-width="0.3">2</text>
<path d="M785.25 447.50 L791.75 454.00 L785.25 460.50 L778.75 454.00 Z" fill="#fff" stroke="#000" stroke-width="1" />
<text x="785.25" y="456.09" font-size="5.8" font-weight="bold" text-anchor="middle" fill="#000" font-family="Liberation Sans, sans-serif" stroke="#000" stroke-width="0.3">3</text>
<path d="M786.00 252.50 L792.50 259.00 L786.00 265.50 L779.50 259.00 Z" fill="#fff" stroke="#000" stroke-width="1" />
<text x="786.00" y="261.09" font-size="5.8" font-weight="bold" text-anchor="middle" fill="#000" font-family="Liberation Sans, sans-serif" stroke="#000" stroke-width="0.3">5</text>
<path d="M495.25 394.70 L501.75 401.20 L495.25 407.70 L488.75 401.20 Z" fill="#fff" stroke="#000" stroke-width="1" />
<text x="495.25" y="403.29" font-size="5.8" font-weight="bold" text-anchor="middle" fill="#000" font-family="Liberation Sans, sans-serif" stroke="#000" stroke-width="0.3">1</text>
<path d="M791.50 242.80 L809.00 242.80" fill="none" stroke="#000" stroke-width="1" />
<path d="M809.00 242.80 L804.00 244.40 L804.00 241.20 Z" fill="#000" stroke="#000" stroke-width="0.3" />
<circle cx="786.00" cy="242.80" r="5.50" fill="#fff" stroke="#000" stroke-width="1" />
<text x="786.00" y="244.89" font-size="5.8" font-weight="bold" text-anchor="middle" fill="#000" font-family="Liberation Sans, sans-serif" stroke="#000" stroke-width="0.3">8</text>
<circle cx="767.75" cy="336.30" r="5.50" fill="#fff" stroke="#000" stroke-width="1" />
<text x="767.75" y="338.39" font-size="5.8" font-weight="bold" text-anchor="middle" fill="#000" font-family="Liberation Sans, sans-serif" stroke="#000" stroke-width="0.3">9</text>
<path d="M772.75 358.5 Q781.75 359 792.50 364.5" fill="none" stroke="#000" stroke-width="1"/>
<path d="M792.50 364.50 L788.19 364.44 L789.42 361.48 Z" fill="#000" stroke="#000" stroke-width="0.3" />
<circle cx="767.75" cy="357.40" r="5.50" fill="#fff" stroke="#000" stroke-width="1" />
<text x="767.75" y="359.49" font-size="5.8" font-weight="bold" text-anchor="middle" fill="#000" font-family="Liberation Sans, sans-serif" stroke="#000" stroke-width="0.3">10</text>
<path d="M779.50 397.80 L796.70 397.80" fill="none" stroke="#000" stroke-width="1" />
<path d="M796.70 397.80 L791.70 399.40 L791.70 396.20 Z" fill="#000" stroke="#000" stroke-width="0.3" />
<circle cx="774.00" cy="397.80" r="5.50" fill="#fff" stroke="#000" stroke-width="1" />
<text x="774.00" y="399.89" font-size="5.8" font-weight="bold" text-anchor="middle" fill="#000" font-family="Liberation Sans, sans-serif" stroke="#000" stroke-width="0.3">11</text>
<path d="M706.50 383.00 L710.25 383.00 L710.25 361.50" fill="none" stroke="#000" stroke-width="1" />
<path d="M710.25 361.50 L711.85 366.50 L708.65 366.50 Z" fill="#000" stroke="#000" stroke-width="0.3" />
<circle cx="701.00" cy="383.00" r="5.50" fill="#fff" stroke="#000" stroke-width="1" />
<text x="701.00" y="385.09" font-size="5.8" font-weight="bold" text-anchor="middle" fill="#000" font-family="Liberation Sans, sans-serif" stroke="#000" stroke-width="0.3">6</text>
<path d="M706.50 396.90 L709.00 396.90 L722.70 366.00" fill="none" stroke="#000" stroke-width="1" />
<circle cx="701.00" cy="396.90" r="5.50" fill="#fff" stroke="#000" stroke-width="1" />
<text x="701.00" y="398.99" font-size="5.8" font-weight="bold" text-anchor="middle" fill="#000" font-family="Liberation Sans, sans-serif" stroke="#000" stroke-width="0.3">7</text>
<path d="M645.50 460.60 L650.25 460.60 L650.25 443.30" fill="none" stroke="#000" stroke-width="1" />
<path d="M650.25 443.30 L651.85 448.30 L648.65 448.30 Z" fill="#000" stroke="#000" stroke-width="0.3" />
<circle cx="640.00" cy="460.60" r="5.50" fill="#fff" stroke="#000" stroke-width="1" />
<text x="640.00" y="462.69" font-size="5.8" font-weight="bold" text-anchor="middle" fill="#000" font-family="Liberation Sans, sans-serif" stroke="#000" stroke-width="0.3">1</text>
<path d="M645.50 474.90 L682.50 474.90" fill="none" stroke="#000" stroke-width="1" />
<path d="M682.50 474.90 L677.50 476.50 L677.50 473.30 Z" fill="#000" stroke="#000" stroke-width="0.3" />
<circle cx="640.00" cy="474.90" r="5.50" fill="#fff" stroke="#000" stroke-width="1" />
<text x="640.00" y="476.99" font-size="5.8" font-weight="bold" text-anchor="middle" fill="#000" font-family="Liberation Sans, sans-serif" stroke="#000" stroke-width="0.3">2</text>
<path d="M645.50 488.60 L669.00 488.60" fill="none" stroke="#000" stroke-width="1" />
<path d="M669.00 488.60 L664.00 490.20 L664.00 487.00 Z" fill="#000" stroke="#000" stroke-width="0.3" />
<circle cx="640.00" cy="488.60" r="5.50" fill="#fff" stroke="#000" stroke-width="1" />
<text x="640.00" y="490.69" font-size="5.8" font-weight="bold" text-anchor="middle" fill="#000" font-family="Liberation Sans, sans-serif" stroke="#000" stroke-width="0.3">5</text>
<path d="M608.20 525.20 L658.50 546.20" fill="none" stroke="#000" stroke-width="1" />
<path d="M658.50 546.20 L653.27 545.75 L654.50 542.80 Z" fill="#000" stroke="#000" stroke-width="0.3" />
<circle cx="603.40" cy="522.90" r="5.50" fill="#fff" stroke="#000" stroke-width="1" />
<text x="603.40" y="524.99" font-size="5.8" font-weight="bold" text-anchor="middle" fill="#000" font-family="Liberation Sans, sans-serif" stroke="#000" stroke-width="0.3">1</text>
<path d="M608.90 537.00 L613.00 537.00 L634.20 547.60" fill="none" stroke="#000" stroke-width="1" />
<path d="M634.20 547.60 L629.01 546.80 L630.44 543.93 Z" fill="#000" stroke="#000" stroke-width="0.3" />
<circle cx="603.40" cy="537.00" r="5.50" fill="#fff" stroke="#000" stroke-width="1" />
<text x="603.40" y="539.09" font-size="5.8" font-weight="bold" text-anchor="middle" fill="#000" font-family="Liberation Sans, sans-serif" stroke="#000" stroke-width="0.3">3</text>
<circle cx="559.70" cy="551.00" r="5.20" fill="#fff" stroke="#000" stroke-width="1" />
<text x="559.70" y="553.09" font-size="5.8" font-weight="bold" text-anchor="middle" fill="#000" font-family="Liberation Sans, sans-serif" stroke="#000" stroke-width="0.3">4</text>
<path d="M259.30 170.30 L254.30 170.30 L254.30 138.00" fill="none" stroke="#000" stroke-width="1" />
<path d="M254.30 138.00 L255.90 143.00 L252.70 143.00 Z" fill="#000" stroke="#000" stroke-width="0.3" />
<circle cx="264.80" cy="170.30" r="5.50" fill="#fff" stroke="#000" stroke-width="1" />
<text x="264.80" y="172.39" font-size="5.8" font-weight="bold" text-anchor="middle" fill="#000" font-family="Liberation Sans, sans-serif" stroke="#000" stroke-width="0.3">13</text>
<path d="M554.00 170.30 L549.60 170.30 L549.60 138.00" fill="none" stroke="#000" stroke-width="1" />
<path d="M549.60 138.00 L551.20 143.00 L548.00 143.00 Z" fill="#000" stroke="#000" stroke-width="0.3" />
<circle cx="559.50" cy="170.30" r="5.50" fill="#fff" stroke="#000" stroke-width="1" />
<text x="559.50" y="172.39" font-size="5.8" font-weight="bold" text-anchor="middle" fill="#000" font-family="Liberation Sans, sans-serif" stroke="#000" stroke-width="0.3">13</text>
<path d="M456.70 439.60 L452.70 439.60 L452.70 465.40" fill="none" stroke="#000" stroke-width="1" />
<path d="M452.70 465.40 L451.10 460.40 L454.30 460.40 Z" fill="#000" stroke="#000" stroke-width="0.3" />
<circle cx="462.20" cy="439.60" r="5.50" fill="#fff" stroke="#000" stroke-width="1" />
<text x="462.20" y="441.69" font-size="5.8" font-weight="bold" text-anchor="middle" fill="#000" font-family="Liberation Sans, sans-serif" stroke="#000" stroke-width="0.3">12</text>
<path d="M518.30 439.60 L514.40 439.60 L514.40 465.40" fill="none" stroke="#000" stroke-width="1" />
<path d="M514.40 465.40 L512.80 460.40 L516.00 460.40 Z" fill="#000" stroke="#000" stroke-width="0.3" />
<circle cx="523.80" cy="439.60" r="5.50" fill="#fff" stroke="#000" stroke-width="1" />
<text x="523.80" y="441.69" font-size="5.8" font-weight="bold" text-anchor="middle" fill="#000" font-family="Liberation Sans, sans-serif" stroke="#000" stroke-width="0.3">13</text>
<path d="M766.90 454.00 L771.50 454.00 L771.50 431.00" fill="none" stroke="#000" stroke-width="1" />
<path d="M771.50 431.00 L773.10 436.00 L769.90 436.00 Z" fill="#000" stroke="#000" stroke-width="0.3" />
<circle cx="761.40" cy="454.00" r="5.50" fill="#fff" stroke="#000" stroke-width="1" />
<text x="761.40" y="456.09" font-size="5.8" font-weight="bold" text-anchor="middle" fill="#000" font-family="Liberation Sans, sans-serif" stroke="#000" stroke-width="0.3">8</text>
<path d="M154.00 377.10 L169.50 371.30 L185.00 377.10 L169.50 382.90 Z" fill="#fff" stroke="#000" stroke-width="1" />
<path d="M160.97 377.10 L169.50 373.91 L178.03 377.10 L169.50 380.29 Z" fill="#fff" stroke="#000" stroke-width="0.8" />
<ellipse cx="169.50" cy="377.10" rx="5.2" ry="2.6" fill="#fff" stroke="#000" stroke-width="0.9"/>
<text x="169.50" y="379.00" font-size="5" font-weight="bold" text-anchor="middle" fill="#000" font-family="Liberation Sans, sans-serif" >A8</text>
<text x="169.50" y="370.50" font-size="5.5" font-weight="bold" text-anchor="middle" fill="#000" font-family="Liberation Sans, sans-serif" >8</text>
<text x="151.80" y="379.10" font-size="5.5" font-weight="bold" text-anchor="middle" fill="#000" font-family="Liberation Sans, sans-serif" >7</text>
<text x="187.20" y="379.10" font-size="5.5" font-weight="bold" text-anchor="middle" fill="#000" font-family="Liberation Sans, sans-serif" >9</text>
<path d="M755.00 377.50 L770.50 371.70 L786.00 377.50 L770.50 383.30 Z" fill="#fff" stroke="#000" stroke-width="1" />
<path d="M761.98 377.50 L770.50 374.31 L779.02 377.50 L770.50 380.69 Z" fill="#fff" stroke="#000" stroke-width="0.8" />
<ellipse cx="770.50" cy="377.50" rx="5.2" ry="2.6" fill="#fff" stroke="#000" stroke-width="0.9"/>
<text x="770.50" y="379.40" font-size="5" font-weight="bold" text-anchor="middle" fill="#000" font-family="Liberation Sans, sans-serif" >A8</text>
<text x="770.50" y="370.90" font-size="5.5" font-weight="bold" text-anchor="middle" fill="#000" font-family="Liberation Sans, sans-serif" >8</text>
<text x="752.80" y="379.50" font-size="5.5" font-weight="bold" text-anchor="middle" fill="#000" font-family="Liberation Sans, sans-serif" >9</text>
<text x="788.20" y="379.50" font-size="5.5" font-weight="bold" text-anchor="middle" fill="#000" font-family="Liberation Sans, sans-serif" >7</text>
<text x="769.50" y="389.80" font-size="5.5" font-weight="bold" text-anchor="middle" fill="#000" font-family="Liberation Sans, sans-serif" textLength="11.00" lengthAdjust="spacingAndGlyphs" >SIM.</text>
<path d="M317.80 475.00 L333.30 469.20 L348.80 475.00 L333.30 480.80 Z" fill="#fff" stroke="#000" stroke-width="1" />
<path d="M324.78 475.00 L333.30 471.81 L341.82 475.00 L333.30 478.19 Z" fill="#fff" stroke="#000" stroke-width="0.8" />
<ellipse cx="333.30" cy="475.00" rx="5.2" ry="2.6" fill="#fff" stroke="#000" stroke-width="0.9"/>
<text x="333.30" y="476.90" font-size="5" font-weight="bold" text-anchor="middle" fill="#000" font-family="Liberation Sans, sans-serif" >A8</text>
<text x="333.30" y="468.40" font-size="5.5" font-weight="bold" text-anchor="middle" fill="#000" font-family="Liberation Sans, sans-serif" >3</text>
<text x="315.60" y="477.00" font-size="5.5" font-weight="bold" text-anchor="middle" fill="#000" font-family="Liberation Sans, sans-serif" >2</text>
<text x="333.30" y="485.80" font-size="5.5" font-weight="bold" text-anchor="middle" fill="#000" font-family="Liberation Sans, sans-serif" >1</text>
<path d="M590.50 475.00 L606.00 469.20 L621.50 475.00 L606.00 480.80 Z" fill="#fff" stroke="#000" stroke-width="1" />
<path d="M597.48 475.00 L606.00 471.81 L614.52 475.00 L606.00 478.19 Z" fill="#fff" stroke="#000" stroke-width="0.8" />
<ellipse cx="606.00" cy="475.00" rx="5.2" ry="2.6" fill="#fff" stroke="#000" stroke-width="0.9"/>
<text x="606.00" y="476.90" font-size="5" font-weight="bold" text-anchor="middle" fill="#000" font-family="Liberation Sans, sans-serif" >A8</text>
<text x="606.00" y="468.40" font-size="5.5" font-weight="bold" text-anchor="middle" fill="#000" font-family="Liberation Sans, sans-serif" >3</text>
<text x="623.70" y="477.00" font-size="5.5" font-weight="bold" text-anchor="middle" fill="#000" font-family="Liberation Sans, sans-serif" >2</text>
<text x="605.00" y="487.30" font-size="5.5" font-weight="bold" text-anchor="middle" fill="#000" font-family="Liberation Sans, sans-serif" textLength="11.00" lengthAdjust="spacingAndGlyphs" >SIM.</text>
<text x="322.50" y="743.20" font-size="15" font-weight="bold" text-anchor="start" fill="#000" font-family="Liberation Sans, sans-serif" textLength="121.50" lengthAdjust="spacingAndGlyphs" word-spacing="4" stroke="#000" stroke-width="0.3">SECOND LEVEL</text>
<text x="322.50" y="757.80" font-size="15" font-weight="bold" text-anchor="start" fill="#000" font-family="Liberation Sans, sans-serif" textLength="206.50" lengthAdjust="spacingAndGlyphs" word-spacing="4" stroke="#000" stroke-width="0.3">ANNOTATED FLOOR PLAN</text>
<line x1="315.00" y1="761.20" x2="624.00" y2="761.20" stroke="#000" stroke-width="1.2" />
<line x1="315.00" y1="763.40" x2="553.00" y2="763.40" stroke="#000" stroke-width="1.6" />
<text x="559.00" y="770.50" font-size="8" font-weight="bold" text-anchor="start" fill="#000" font-family="Liberation Sans, sans-serif" textLength="60.00" lengthAdjust="spacingAndGlyphs" >SCALE: 1/4"=1'-0"</text>
<circle cx="635.50" cy="761.10" r="12.00" fill="#fff" stroke="#000" stroke-width="1.1" />
<path d="M633.60 759.30 L635.40 757.30 L636.40 757.30 L636.40 764.90 L634.60 764.90 L634.60 759.40 L633.60 760.20 Z" fill="#000" stroke="#000" stroke-width="0.2" />
<circle cx="692.00" cy="750.70" r="24.20" fill="none" stroke="#000" stroke-width="1.8" />
<line x1="671.48" y1="714.06" x2="706.66" y2="776.87" stroke="#000" stroke-width="1" />
<line x1="722.10" y1="733.84" x2="662.34" y2="767.31" stroke="#000" stroke-width="1" />
<path d="M713.11 738.88 L703.82 771.81 L670.89 762.52" fill="none" stroke="#000" stroke-width="2" />
<text x="0" y="0" font-size="8.5" font-weight="normal" font-family="Liberation Sans, sans-serif" textLength="31" lengthAdjust="spacingAndGlyphs" stroke="#000" stroke-width="0.3" transform="translate(672.91 714.97) rotate(60.75)">NORTH</text>
<text x="7.60" y="754.40" font-size="20.8" font-weight="normal" text-anchor="start" fill="#777" font-family="Liberation Sans, sans-serif" textLength="94.50" lengthAdjust="spacingAndGlyphs" >LVR 2025</text>
</svg>
</body></html>
